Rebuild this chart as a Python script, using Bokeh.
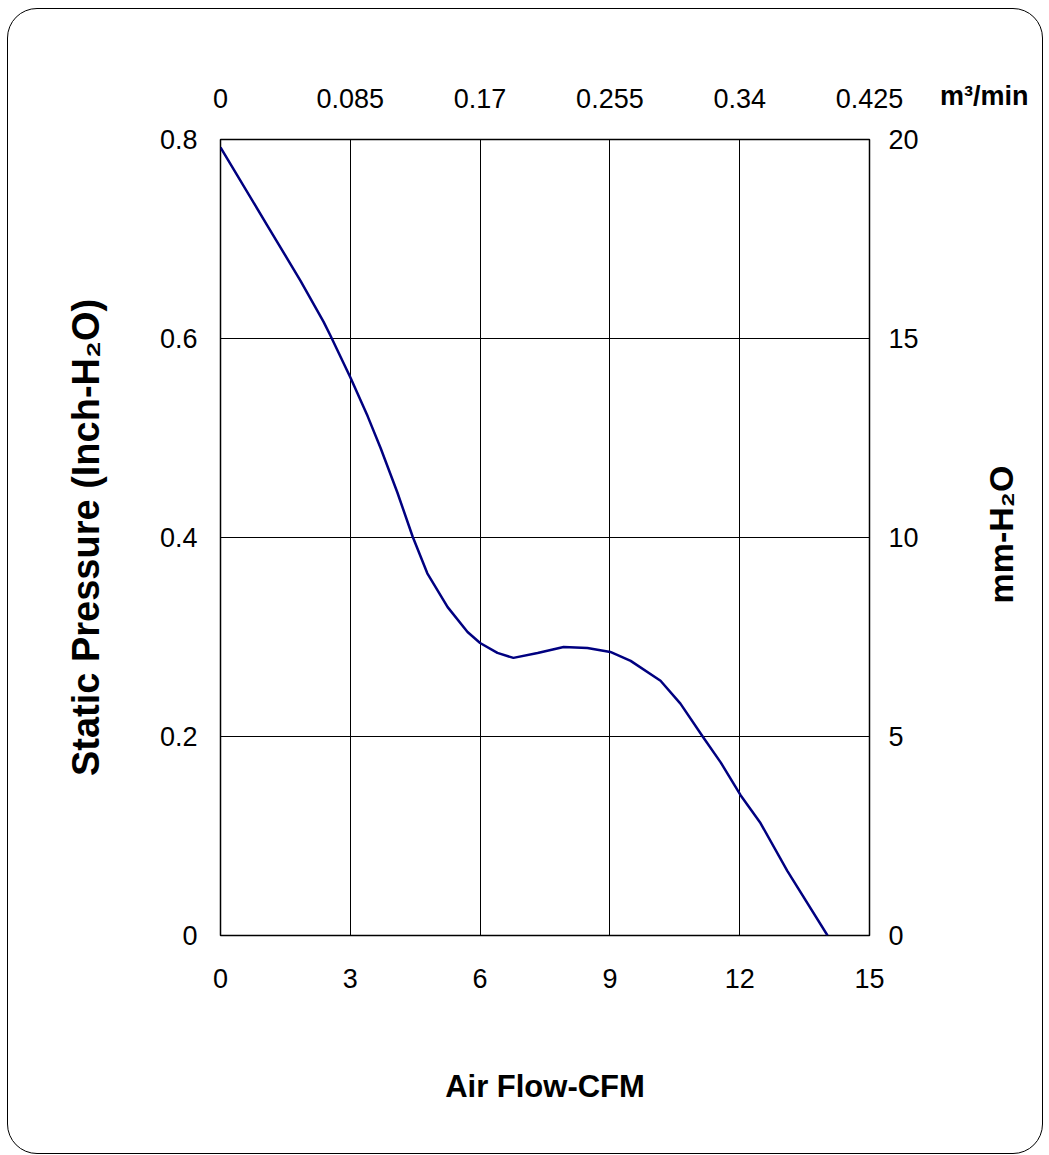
import math
from bokeh.plotting import figure
from bokeh.models import (Range1d, LinearAxis, FixedTicker, CustomJSTickFormatter,
                          Grid, Title)
from bokeh.embed import file_html
from bokeh.resources import INLINE

# Air flow (CFM) vs static pressure (inch H2O)
cfm = [0.0, 1.09, 1.85, 2.38, 2.54, 3.0, 3.4, 3.7, 4.09, 4.44, 4.78, 5.25,
       5.71, 6.0, 6.4, 6.77, 7.33, 7.93, 8.48, 9.01, 9.48, 10.17, 10.63, 11.16,
       11.56, 12.02, 12.48, 13.1, 14.03]
pressure = [0.792, 0.713, 0.658, 0.617, 0.603, 0.561, 0.522, 0.490, 0.445,
            0.401, 0.364, 0.330, 0.305, 0.294, 0.284, 0.279, 0.284, 0.290, 0.289,
            0.285, 0.276, 0.256, 0.233, 0.199, 0.174, 0.141, 0.113, 0.065, 0.0]

x_ticks = [0, 3, 6, 9, 12, 15]
y_ticks = [0, 0.2, 0.4, 0.6, 0.8]
mm_ticks = [0, 5, 10, 15, 20]
m3_ticks = [0, 0.085, 0.17, 0.255, 0.34, 0.425]

FONT = "Liberation Sans"

p = figure(frame_width=649, frame_height=796,
           x_range=Range1d(0, 15), y_range=Range1d(0, 0.8),
           x_axis_location=None, y_axis_location=None,
           output_backend="svg", toolbar_location=None,
           min_border_left=212, min_border_right=171,
           min_border_top=130, min_border_bottom=218,
           border_fill_color=None, background_fill_color="white",
           outline_line_color="black", outline_line_width=1.5,
           styles={"border": "1px solid black", "border-radius": "30px",
                   "overflow": "hidden", "margin-left": "7px",
                   "margin-top": "8px"})
p.extra_y_ranges = {"mm": Range1d(0, 20)}
p.extra_x_ranges = {"m3": Range1d(0, 0.425)}
p.center = []

fmt = "return String(Math.round(tick*1000)/1000);"


def style(ax, standoff):
    ax.major_tick_out = 0
    ax.major_tick_in = 0
    ax.minor_tick_out = 0
    ax.minor_tick_in = 0
    ax.axis_line_color = None
    ax.major_label_standoff = standoff
    ax.major_label_text_font = FONT
    ax.major_label_text_font_size = "27px"
    ax.major_label_text_color = "black"
    ax.axis_label_text_font = FONT
    ax.axis_label_text_font_style = "bold"
    ax.axis_label_text_color = "black"
    ax.formatter = CustomJSTickFormatter(code=fmt)


bottom = LinearAxis(ticker=FixedTicker(ticks=x_ticks), axis_label="Air Flow-CFM")
style(bottom, 33)
bottom.axis_label_text_font_size = "31px"
bottom.axis_label_standoff = 78
p.add_layout(bottom, "below")

left = LinearAxis(ticker=FixedTicker(ticks=y_ticks),
                  axis_label="Static Pressure (Inch-H\u2082O)")
style(left, 23)
left.axis_label_text_font_size = "38px"
left.axis_label_standoff = 50
p.add_layout(left, "left")

right = LinearAxis(y_range_name="mm", ticker=FixedTicker(ticks=mm_ticks))
style(right, 19)
p.add_layout(right, "right")

# right-hand unit title, drawn as the single label of an outer axis so that it
# reads bottom-to-top like the reference
right_title = LinearAxis(ticker=FixedTicker(ticks=[0.3337]))
style(right_title, 80)
right_title.formatter = CustomJSTickFormatter(code='return "mm-H\u2082O";')
right_title.major_label_orientation = math.pi / 2
right_title.major_label_text_font_size = "34px"
right_title.major_label_text_font_style = "bold"
p.add_layout(right_title, "right")

top = LinearAxis(x_range_name="m3", ticker=FixedTicker(ticks=m3_ticks))
style(top, 32)
p.add_layout(top, "above")

unit = Title(text="m\u00b3/min", align="right", offset=-159, standoff=-50,
             text_font=FONT, text_font_size="27px", text_font_style="bold",
             text_color="black")
p.add_layout(unit, "above")

p.add_layout(Grid(dimension=0, ticker=FixedTicker(ticks=x_ticks),
                  grid_line_color="black", grid_line_width=1))
p.add_layout(Grid(dimension=1, ticker=FixedTicker(ticks=y_ticks),
                  grid_line_color="black", grid_line_width=1))

p.line(cfm, pressure, line_color="#000080", line_width=2.5)

open("out.html", "w").write(file_html(p, INLINE))
